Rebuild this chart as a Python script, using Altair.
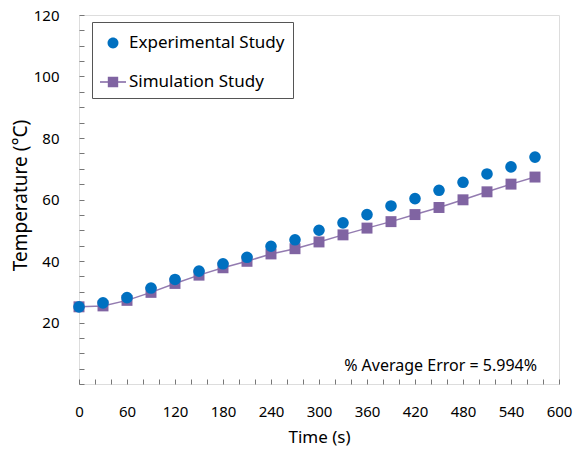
import altair as alt
import pandas as pd

time_s = [0, 30, 60, 90, 120, 150, 180, 210, 240, 270, 300, 330, 360, 390, 420, 450, 480, 510, 540, 570]
experimental = [25.1, 26.4, 28.1, 31.2, 34.0, 36.7, 39.1, 41.2, 44.8, 46.9, 50.0, 52.4, 55.1, 57.9, 60.3, 63.0, 65.6, 68.3, 70.6, 73.8]
simulation = [25.1, 25.4, 27.2, 29.8, 32.7, 35.4, 37.8, 39.9, 42.3, 44.0, 46.2, 48.5, 50.7, 52.8, 55.1, 57.4, 59.9, 62.5, 65.0, 67.3]
series_names = ["Experimental Study", "Simulation Study"]
x_ticks = list(range(0, 601, 20))
y_ticks = list(range(0, 121, 5))
annotation = "% Average Error = 5.994%"

BLUE = "#0070C0"
PURPLE = "#8064A2"
FONT = "Noto Sans"

rows = []
for t, v in zip(time_s, simulation):
    rows.append({"time": t, "temp": v, "series": series_names[1]})
for t, v in zip(time_s, experimental):
    rows.append({"time": t, "temp": v, "series": series_names[0]})
df = pd.DataFrame(rows)
sim_df = df[df.series == series_names[1]]

x_scale = alt.Scale(domain=[0, 600], nice=False, zero=False)
y_scale = alt.Scale(domain=[0, 120], nice=False, zero=False)

x_axis = alt.Axis(
    title="Time (s)", values=x_ticks, offset=-5, domain=False,
    tickSize=5, tickColor="#777777", tickWidth=1,
    labelExpr="datum.value % 60 === 0 ? datum.label : ''",
    labelOverlap=False, labelPadding=20, labelFontSize=15, labelFont=FONT,
    labelColor="#000000", titleFontSize=17, titleFont=FONT, titleFontWeight="normal",
    titleColor="#000000", titlePadding=10, grid=False, labelFlush=False,
)
y_axis = alt.Axis(
    title="Temperature (°C)", values=y_ticks, offset=-5, domain=False,
    tickSize=5, tickColor="#777777", tickWidth=1,
    labelExpr="(datum.value % 20 === 0 && datum.value > 0) ? datum.label : ''",
    labelOverlap=False, labelPadding=20, labelFontSize=15, labelFont=FONT,
    labelColor="#000000", titleFontSize=19, titleFont=FONT, titleFontWeight="normal",
    titleColor="#000000", titlePadding=3, titleY=180, grid=False, labelFlush=False,
)

X = alt.X("time:Q", scale=x_scale, axis=x_axis)
Y = alt.Y("temp:Q", scale=y_scale, axis=y_axis)

line = alt.Chart(sim_df).mark_line(color=PURPLE, strokeWidth=1.5, opacity=0.85).encode(x=X, y=Y)

points = alt.Chart(df).mark_point(filled=True, opacity=1).encode(
    x=X, y=Y,
    color=alt.Color("series:N", scale=alt.Scale(domain=series_names, range=[BLUE, PURPLE]), legend=None),
    shape=alt.Shape("series:N", scale=alt.Scale(domain=series_names, range=["circle", "square"]), legend=None),
    size=alt.Size("series:N", scale=alt.Scale(domain=series_names, range=[135, 120]), legend=None),
)

circle_path = "M -0.42 0 A 0.42 0.42 0 1 0 0.42 0 A 0.42 0.42 0 1 0 -0.42 0 Z"
line_square_path = "M -1 -0.05 L 1 -0.05 L 1 0.05 L -1 0.05 Z M -0.4 -0.4 L 0.4 -0.4 L 0.4 0.4 L -0.4 0.4 Z"

legend_kw = dict(title=None, orient="none", legendX=13, legendY=7,
                 symbolSize=676, symbolStrokeWidth=0, symbolOpacity=1,
                 labelFontSize=17, labelFont=FONT, labelColor="#000000",
                 labelOffset=3, rowPadding=18, padding=8,
                 strokeColor="#555555", fillColor="#ffffff", cornerRadius=0)

legend_layer = alt.Chart(df).transform_filter("false").mark_point(filled=True, opacity=1).encode(
    x=X, y=Y,
    color=alt.Color("series:N", scale=alt.Scale(domain=series_names, range=[BLUE, PURPLE]),
                    legend=alt.Legend(**legend_kw)),
    shape=alt.Shape("series:N", scale=alt.Scale(domain=series_names, range=[circle_path, line_square_path]),
                    legend=alt.Legend(**legend_kw)),
)

note = alt.Chart(pd.DataFrame({"t": [annotation]})).mark_text(
    align="right", baseline="alphabetic", fontSize=16, font=FONT, color="#000000"
).encode(text="t:N", x=alt.value(458), y=alt.value(356))

chart = alt.layer(line, points, legend_layer, note).resolve_scale(
    color="independent", shape="independent", size="independent"
).properties(
    width=480, height=369,
    padding={"left": 79, "top": 15, "right": 17, "bottom": 68},
    autosize=alt.AutoSizeParams(type="none"),
).configure_view(stroke="#5a5a5a", strokeWidth=1.5).configure(background="#ffffff")

chart.save("out.html", embed_options={"renderer": "svg", "actions": False})
